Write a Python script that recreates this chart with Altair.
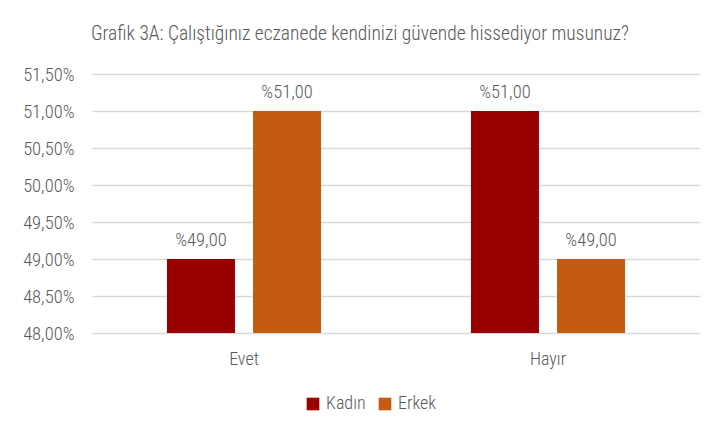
import altair as alt
import pandas as pd

categories = ["Evet", "Evet", "Hayır", "Hayır"]
genders = ["Kadın", "Erkek", "Kadın", "Erkek"]
values = [49.0, 51.0, 51.0, 49.0]
base = 48.0

df = pd.DataFrame({"cat": categories, "gender": genders, "value": values, "base": [base] * 4})

FONT = "Liberation Sans Narrow, Arial Narrow, Roboto Condensed, Roboto, sans-serif"
GREY = "#595959"
W = 300

x = alt.X("cat:N", sort=["Evet", "Hayır"], title=None,
          scale=alt.Scale(paddingInner=0.493, paddingOuter=0.2465),
          axis=alt.Axis(labelAngle=0, domain=False, ticks=False, labelPadding=17,
                        labelFontSize=18, labelColor=GREY, labelFont=FONT,
                        labelFontWeight=W))
xo = alt.XOffset("gender:N", sort=["Kadın", "Erkek"],
                 scale=alt.Scale(paddingInner=0.2093, paddingOuter=0))
y = alt.Y("value:Q", title=None,
          scale=alt.Scale(domain=[48, 51.5], zero=False, nice=False),
          axis=alt.Axis(values=[48, 48.5, 49, 49.5, 50, 50.5, 51, 51.5],
                        labelExpr="replace(format(datum.value, '.2f'), '.', ',') + '%'",
                        domain=False, ticks=False, labelPadding=18,
                        labelFontSize=18.5, labelColor=GREY, labelFont=FONT,
                        labelFontWeight=W,
                        grid=True, gridColor="#D9D9D9", gridWidth=1.3))

color = alt.Color("gender:N", sort=["Kadın", "Erkek"],
                  scale=alt.Scale(domain=["Kadın", "Erkek"], range=["#990000", "#C55A11"]),
                  legend=alt.Legend(title=None, orient="none", direction="horizontal",
                                    legendX=212, legendY=321, symbolType="square",
                                    symbolSize=160, symbolStrokeWidth=0,
                                    labelFontSize=18, labelColor=GREY, labelFont=FONT,
                                    labelFontWeight=W,
                                    columnPadding=10, labelOffset=4))

bars = alt.Chart(df).mark_bar(size=68).encode(
    x=x, xOffset=xo, y=y, y2=alt.Y2("base:Q"), color=color
)

labels = alt.Chart(df).transform_calculate(
    lbl="'%' + replace(format(datum.value, '.2f'), '.', ',')"
).mark_text(dy=-19, fontSize=18.5, color=GREY, font=FONT, fontWeight=W).encode(
    x=x, xOffset=xo, y=y, text="lbl:N"
)

chart = alt.layer(bars, labels).properties(
    width=608, height=259,
    title=alt.TitleParams(
        "Grafik 3A: Çalıştığınız eczanede kendinizi güvende hissediyor musunuz?",
        anchor="start", frame="group", fontSize=19.5, fontWeight=W,
        color=GREY, font=FONT, offset=21, dx=-1
    ),
    padding={"left": 84, "top": 66, "right": 8, "bottom": 92},
    autosize=alt.AutoSizeParams(type="none"),
).configure(background="white").configure_view(stroke=None)

chart.save("out.html", embed_options={"renderer": "svg", "actions": False})
